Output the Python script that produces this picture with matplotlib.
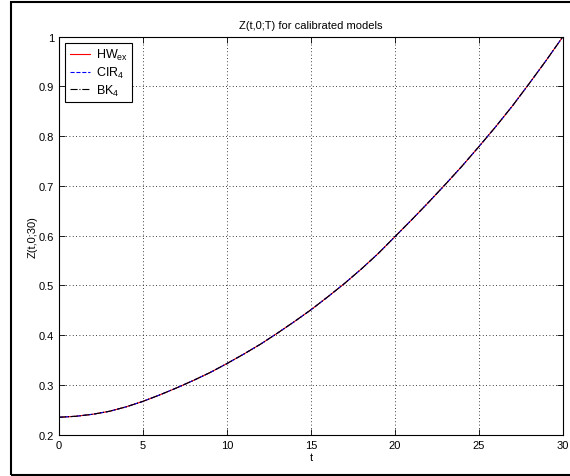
import matplotlib
matplotlib.use("Agg")
import matplotlib.pyplot as plt
from matplotlib.patches import Rectangle
import numpy as np

plt.rcParams['font.family'] = ['Liberation Sans', 'DejaVu Sans']
plt.rcParams['mathtext.fontset'] = 'custom'
plt.rcParams['mathtext.rm'] = 'Liberation Sans'

# values (all three models coincide)
t = [0, 1, 2, 3, 4, 5, 6, 7, 8, 9, 10, 11, 12, 13, 14, 15, 16, 17, 18, 19, 20,
     21, 22, 23, 24, 25, 26, 27, 28, 29, 30]
z_hw = [0.235, 0.237, 0.241, 0.247, 0.256, 0.267, 0.280, 0.294, 0.309, 0.325, 0.343,
        0.362, 0.382, 0.404, 0.427, 0.451, 0.477, 0.504, 0.533, 0.564, 0.598,
        0.632, 0.667, 0.703, 0.740, 0.779, 0.819, 0.861, 0.906, 0.952, 1.0]
z_cir = list(z_hw)
z_bk = list(z_hw)

xticks = [0, 5, 10, 15, 20, 25, 30]
yticks = [0.2, 0.3, 0.4, 0.5, 0.6, 0.7, 0.8, 0.9, 1]
ytick_labels = ['0.2', '0.3', '0.4', '0.5', '0.6', '0.7', '0.8', '0.9', '1']

fig = plt.figure(figsize=(5.7, 4.77), dpi=100)
ax = fig.add_axes([0.1035, 0.0866, 0.884, 0.8344])

ax.plot(t, z_hw, '-', color='red', lw=0.8, label=r'HW$_{\mathregular{ex}}$')
ax.plot(t, z_cir, '--', color='blue', lw=0.8, label=r'CIR$_{\mathregular{4}}$')
ax.plot(t, z_bk, '-.', color='black', lw=0.8, label=r'BK$_{\mathregular{4}}$')

ax.set_xlim(0, 30)
ax.set_ylim(0.2, 1)
ax.set_xticks(xticks)
ax.set_yticks(yticks)
ax.set_yticklabels(ytick_labels)
ax.tick_params(direction='in', top=True, right=True, labelsize=8, length=4, width=0.6)
ax.grid(True, color='black', linestyle=(0, (1, 3)), linewidth=0.6)
for s in ax.spines.values():
    s.set_linewidth(0.8)

ax.set_title('Z(t,0;T) for calibrated models', fontsize=8, pad=6)
ax.set_xlabel('t', fontsize=8, labelpad=2)
ax.set_ylabel('Z(t,0;30)', fontsize=8, labelpad=1)

leg = ax.legend(loc='upper left', fontsize=9, fancybox=False, framealpha=1,
                edgecolor='black', handlelength=1.6, handletextpad=0.5,
                borderaxespad=0.5, labelspacing=0.2, borderpad=0.35)
leg.get_frame().set_linewidth(0.8)

# outer frame around the figure
fig.patches.append(Rectangle((11 / 570, 1.5 / 477), 1.2, 1 - 4.5 / 477,
                             transform=fig.transFigure, fill=False,
                             edgecolor='black', lw=1.5))

fig.savefig('out.png', dpi=100)
